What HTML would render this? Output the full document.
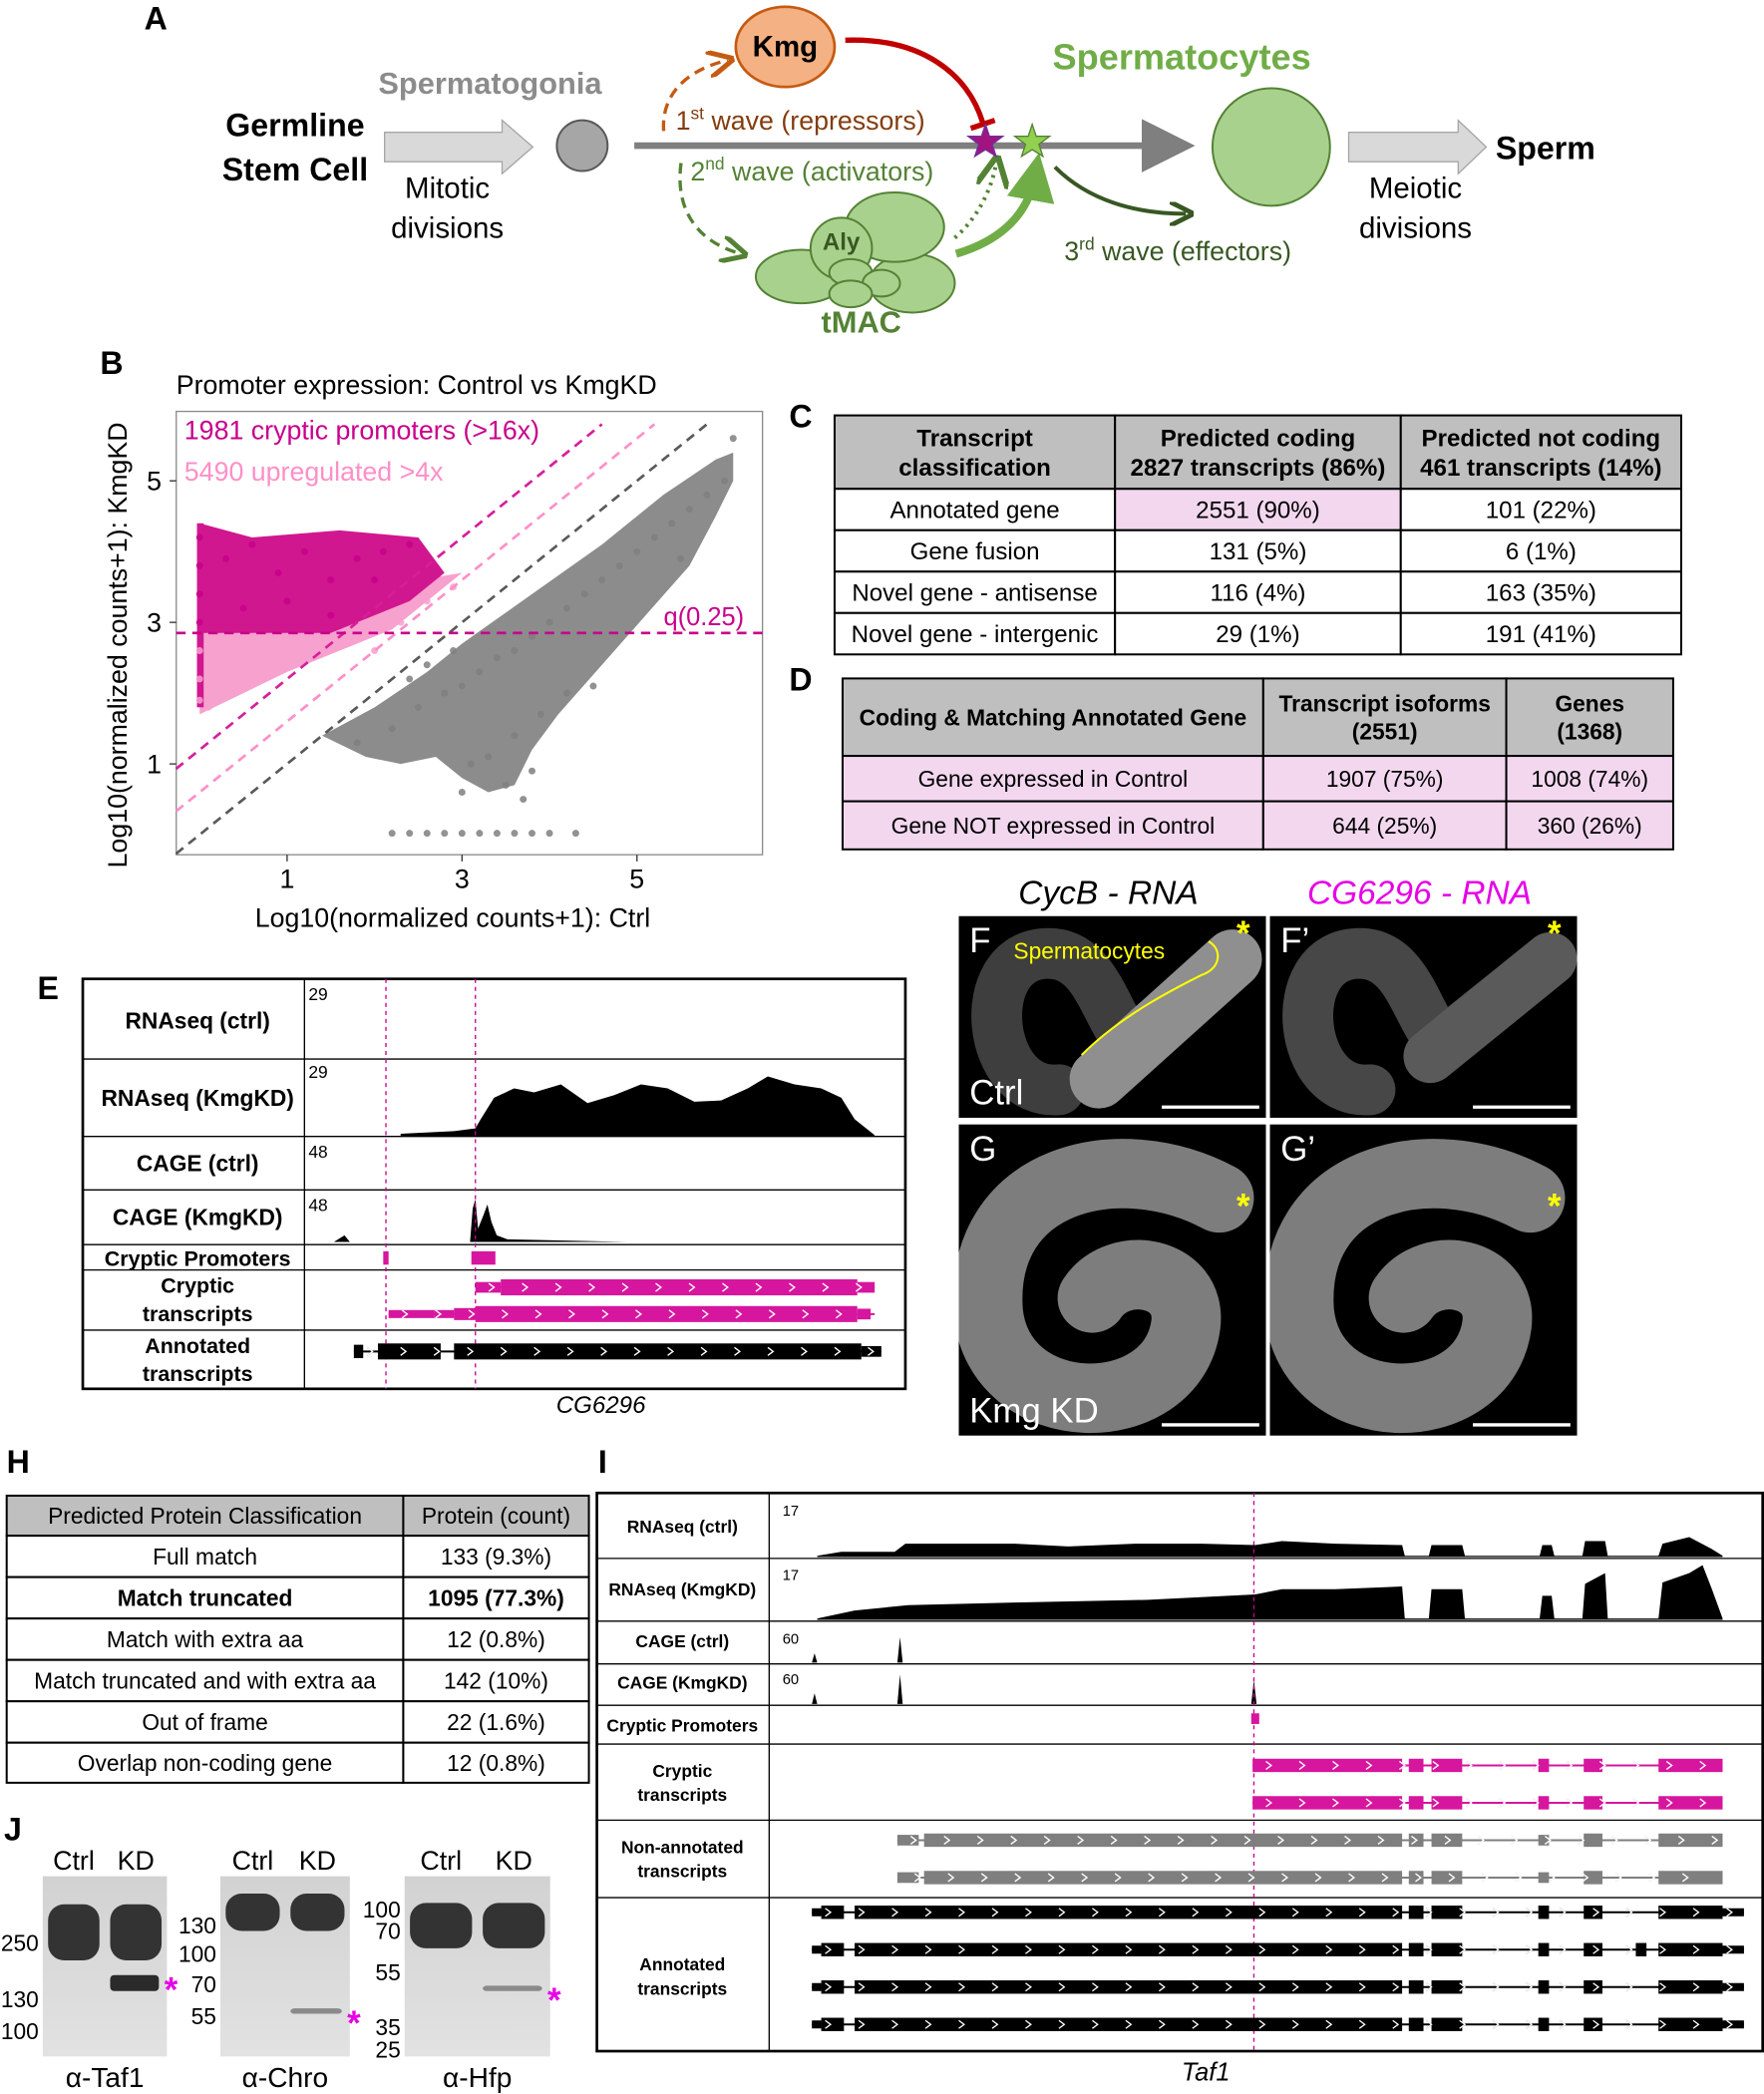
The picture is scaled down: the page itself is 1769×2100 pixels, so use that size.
<!DOCTYPE html>
<html><head><meta charset="utf-8"><title>Figure</title>
<style>
html,body{margin:0;padding:0;background:#fff;}
svg{display:block;font-family:"Liberation Sans",sans-serif;}
</style></head>
<body>
<svg id="fig" width="1769" height="2100" viewBox="0 0 1321 1568" xmlns="http://www.w3.org/2000/svg">
<defs>
<marker id="ah" markerWidth="8" markerHeight="8" refX="6" refY="4" orient="auto"><path d="M0,0 L8,4 L0,8 z" fill="#7f7f7f"/></marker>
<marker id="ahO" markerWidth="8" markerHeight="8" refX="6" refY="4" orient="auto"><path d="M0,0 L8,4 L0,8" fill="none" stroke="#c55a11" stroke-width="1.5"/></marker>
<marker id="ahG" markerWidth="8" markerHeight="8" refX="6" refY="4" orient="auto"><path d="M0,0 L8,4 L0,8" fill="none" stroke="#548235" stroke-width="1.5"/></marker>
<marker id="ahDG" markerWidth="6" markerHeight="6" refX="4" refY="3" orient="auto"><path d="M0,0 L6,3 L0,6" fill="none" stroke="#385723" stroke-width="1.2"/></marker>
<marker id="ahT" markerWidth="6" markerHeight="6" refX="3" refY="3" orient="auto"><path d="M0,0 L6,3 L0,6 z" fill="#70ad47"/></marker>
<linearGradient id="blotbg" x1="0" y1="0" x2="0" y2="1"><stop offset="0" stop-color="#d2d2d2"/><stop offset="1" stop-color="#e2e2e2"/></linearGradient>
</defs>

<g>
<text x="108" y="22" font-size="24" font-weight="bold">A</text>
<text x="221" y="102" font-size="24" font-weight="bold" text-anchor="middle">Germline</text>
<text x="221" y="135" font-size="24" font-weight="bold" text-anchor="middle">Stem Cell</text>
<path d="M288,99 H376 V90 L399,110 L376,130 V121 H288 Z" fill="#d9d9d9" stroke="#a6a6a6"/>
<text x="367" y="70" font-size="23" font-weight="bold" fill="#8c8c8c" text-anchor="middle">Spermatogonia</text>
<text x="335" y="148" font-size="22" text-anchor="middle">Mitotic</text>
<text x="335" y="178" font-size="22" text-anchor="middle">divisions</text>
<circle cx="436" cy="109" r="19" fill="#a6a6a6" stroke="#595959" stroke-width="1.5"/>
<line x1="475" y1="109" x2="885" y2="109" stroke="#7f7f7f" stroke-width="5" marker-end="url(#ah)"/>
<ellipse cx="588" cy="35" rx="37" ry="30" fill="#f4b183" stroke="#c55a11" stroke-width="2"/>
<text x="588" y="42" font-size="22" font-weight="bold" text-anchor="middle">Kmg</text>
<path d="M633,30 C690,28 725,55 736,92" fill="none" stroke="#c00000" stroke-width="4"/>
<line x1="727" y1="96" x2="745" y2="90" stroke="#c00000" stroke-width="4"/>
<path d="M497,98 C495,70 515,52 545,45" fill="none" stroke="#c55a11" stroke-width="2.5" stroke-dasharray="8,5" marker-end="url(#ahO)"/>
<text x="506" y="97" font-size="20" fill="#843c0c">1<tspan font-size="13" dy="-8">st</tspan><tspan dy="8"> wave (repressors)</tspan></text>
<text x="517" y="135" font-size="20" fill="#548235">2<tspan font-size="13" dy="-8">nd</tspan><tspan dy="8"> wave (activators)</tspan></text>
<path d="M510,122 C505,160 525,182 555,190" fill="none" stroke="#548235" stroke-width="2.5" stroke-dasharray="8,5" marker-end="url(#ahG)"/>
<g fill="#a9d18e" stroke="#548235" stroke-width="1.5">
<ellipse cx="600" cy="207" rx="34" ry="20"/><ellipse cx="683" cy="212" rx="32" ry="22"/><ellipse cx="670" cy="170" rx="37" ry="26"/>
<ellipse cx="630" cy="186" rx="23" ry="23"/><ellipse cx="637" cy="204" rx="16" ry="10"/><ellipse cx="660" cy="212" rx="14" ry="10"/><ellipse cx="637" cy="220" rx="16" ry="10"/>
</g>
<text x="630" y="187" font-size="18" font-weight="bold" fill="#385723" text-anchor="middle">Aly</text>
<text x="645" y="249" font-size="23" font-weight="bold" fill="#548235" text-anchor="middle">tMAC</text>
<path d="M715,178 C730,165 742,145 746,122" fill="none" stroke="#548235" stroke-width="3" stroke-dasharray="2,4" marker-end="url(#ahG)"/>
<path d="M716,190 C750,180 770,160 775,132" fill="none" stroke="#70ad47" stroke-width="6" marker-end="url(#ahT)"/>
<path d="M790,125 C815,150 850,160 888,160" fill="none" stroke="#385723" stroke-width="3" marker-end="url(#ahDG)"/>
<text x="797" y="195" font-size="20" fill="#385723">3<tspan font-size="13" dy="-8">rd</tspan><tspan dy="8"> wave (effectors)</tspan></text>
<polygon points="738,93 741,102 751,102 743,108 746,117 738,112 730,117 733,108 725,102 735,102" fill="#a0147f" stroke="#7030a0"/>
<polygon points="773,93 776,102 786,102 778,108 781,117 773,112 765,117 768,108 760,102 770,102" fill="#92d050" stroke="#548235"/>
<text x="885" y="52" font-size="27" font-weight="bold" fill="#70ad47" text-anchor="middle">Spermatocytes</text>
<circle cx="952" cy="110" r="44" fill="#a9d18e" stroke="#548235" stroke-width="1.5"/>
<path d="M1010,99 H1092 V90 L1113,110 L1092,130 V121 H1010 Z" fill="#d9d9d9" stroke="#a6a6a6"/>
<text x="1120" y="119" font-size="24" font-weight="bold">Sperm</text>
<text x="1060" y="148" font-size="22" text-anchor="middle">Meiotic</text>
<text x="1060" y="178" font-size="22" text-anchor="middle">divisions</text>
</g>

<g id="scatter">
<text x="75" y="280" font-size="24" font-weight="bold">B</text>
<text x="132" y="295" font-size="20">Promoter expression: Control vs KmgKD</text>
<rect x="132" y="308" width="439" height="332" fill="#fff" stroke="#8c8c8c"/>
<g id="clouds"></g>
<g id="pts"></g>
<g id="lines"></g>
<g id="ticks"></g>
<text x="138" y="329" font-size="20" fill="#c8008c">1981 cryptic promoters (&gt;16x)</text>
<text x="138" y="360" font-size="20" fill="#ff8fc8">5490 upregulated &gt;4x</text>
<text x="497" y="468" font-size="19" fill="#c8008c">q(0.25)</text>
<text x="339" y="694" font-size="20" text-anchor="middle">Log10(normalized counts+1): Ctrl</text>
<text transform="translate(95,483) rotate(-90)" font-size="20" text-anchor="middle">Log10(normalized counts+1): KmgKD</text>
</g>

<g id="tableC">
<text x="591" y="320" font-size="24" font-weight="bold">C</text>
</g>
<g id="tableD">
<text x="591" y="517" font-size="24" font-weight="bold">D</text>
</g>

<g id="panelE">
<text x="28" y="748" font-size="24" font-weight="bold">E</text>
<rect x="62" y="733" width="616" height="307" fill="#fff" stroke="#000" stroke-width="2"/>
<line x1="228" y1="733" x2="228" y2="1040" stroke="#000"/>
<text x="450" y="1058" font-size="18" font-style="italic" text-anchor="middle">CG6296</text>
</g>

<g id="panelF">
<text x="830" y="677" font-size="25" font-style="italic" text-anchor="middle">CycB - RNA</text>
<text x="1063" y="677" font-size="25" font-style="italic" fill="#e600e6" text-anchor="middle">CG6296 - RNA</text>
</g>

<g id="tableH">
<text x="5" y="1103" font-size="24" font-weight="bold">H</text>
</g>

<g id="panelI">
<text x="448" y="1103" font-size="24" font-weight="bold">I</text>
<rect x="447" y="1118" width="873" height="418" fill="#fff" stroke="#000" stroke-width="2"/>
<line x1="576" y1="1118" x2="576" y2="1536" stroke="#000"/>
<text x="903" y="1558" font-size="19" font-style="italic" text-anchor="middle">Taf1</text>
</g>

<g id="panelJ">
<text x="3" y="1378" font-size="24" font-weight="bold">J</text>
</g>
</svg>

<script>
var NS="http://www.w3.org/2000/svg";
function mk(p,tag,attrs,txt){var e=document.createElementNS(NS,tag);for(var k in attrs)e.setAttribute(k,attrs[k]);if(txt!==undefined)e.textContent=txt;p.appendChild(e);return e;}

var xTicks=[1,3,5];
var yTicks=[1,3,5];
var grayCtrl=[1.8,2.2,2.5,2.8,3.0,3.2,3.4,3.6,3.8,4.0,4.2,4.4,4.6,4.8,5.0,5.2,5.4,5.6,5.8,6.0,3.3,3.6,3.9,4.2,3.1,2.4,2.6,2.9,3.5,3.8,4.5,5.5,6.1,3.0,3.7];
var grayKD =[1.3,1.5,1.8,2.0,2.1,2.3,2.5,2.6,2.8,3.0,3.2,3.4,3.6,3.8,4.0,4.2,4.4,4.6,4.8,5.0,1.1,1.4,1.7,2.0,1.0,2.2,2.4,2.6,0.7,0.9,2.1,3.9,5.6,0.6,0.5];
var zeroCtrl=[2.2,2.4,2.6,2.8,3.0,3.2,3.4,3.6,3.8,4.0,4.3];
var zeroKD=[0.02,0.02,0.02,0.02,0.02,0.02,0.02,0.02,0.02,0.02,0.02];
var magCtrl=[0.0,0.0,0.0,0.0,0.3,0.6,0.9,1.2,1.5,1.8,2.1,2.4,0.5,1.0,1.5,2.0];
var magKD =[4.2,3.8,3.4,3.0,3.9,4.1,3.7,4.0,3.6,3.9,4.0,4.1,3.2,3.3,3.1,3.6];
var pinkCtrl=[0.0,0.0,0.0,0.3,0.8,1.3,1.8,2.3,2.6,2.9,1.0,2.0,0.1,0.2];
var pinkKD =[2.6,2.2,1.9,2.5,2.7,2.7,2.9,3.0,3.3,3.5,2.4,2.6,1.8,2.0];
var q25=2.85;
var foldLines=[{log:1.2,color:"#d61f9a"},{log:0.6,color:"#ff8fc8"},{log:0,color:"#595959"}];

function sx(v){return 149.5+v*65.5;}
function sy(v){return 625-v*53;}
function poly(arr){return arr.map(function(p){return sx(p[0])+','+sy(p[1]);}).join(' ');}
(function(){
 var cl=document.getElementById('clouds');
 var pink=mk(cl,'polygon',{points:poly([[0,1.7],[1.0,2.3],[2.2,2.9],[3.0,3.7],[2.0,3.5],[1.0,3.1],[0,3.0]]),fill:'#f7a1cf'});
 
 
 var mag=mk(cl,'polygon',{points:poly([[0,2.85],[1.5,2.85],[2.4,3.3],[2.8,3.7],[2.5,4.2],[1.6,4.3],[0.6,4.2],[0,4.4]]),fill:'#d0178f'});
 
 
 var gr=mk(cl,'polygon',{points:poly([[1.4,1.4],[2.0,1.8],[2.6,2.3],[3.0,2.7],[3.8,3.4],[4.6,4.1],[5.3,4.8],[5.9,5.3],[6.1,5.4],[6.1,5.0],[5.9,4.5],[5.6,3.8],[5.1,3.1],[4.6,2.4],[4.1,1.7],[3.8,1.2],[3.6,0.7],[3.3,0.6],[3.0,0.8],[2.7,1.1],[2.3,1.0],[1.9,1.1]]),fill:'#8c8c8c'});
 
 
 var vl=mk(cl,'rect',{x:sx(0)-2,y:sy(4.4),width:5,height:sy(1.8)-sy(4.4),fill:'#d0178f'});
 
 
 var pg=document.getElementById('pts');
 function dots(xs,ys,col,nm){for(var i=0;i<xs.length;i++){var c=mk(pg,'circle',{cx:sx(xs[i]),cy:sy(ys[i]),r:2.6,fill:col,opacity:0.85});
  
  }}
 dots(grayCtrl,grayKD,'#7f7f7f','gray-point');
 dots(zeroCtrl,zeroKD,'#7f7f7f','zero-point');
 dots(pinkCtrl,pinkKD,'#f7a1cf','pink-point');
 dots(magCtrl,magKD,'#c8008c','magenta-point');
 var lg=document.getElementById('lines');
 foldLines.forEach(function(f){
  var x0=-0.27,x1=Math.min(5.8-f.log,6.1);
  var l=mk(lg,'line',{x1:sx(x0),y1:sy(x0+f.log),x2:sx(x1),y2:sy(x1+f.log),stroke:f.color,'stroke-width':2,'stroke-dasharray':'7,5'});
  
  
 });
 var q=mk(lg,'line',{x1:132,y1:sy(q25),x2:571,y2:sy(q25),stroke:'#c8008c','stroke-width':2,'stroke-dasharray':'7,5'});
 
 
 var tg=document.getElementById('ticks');
 xTicks.forEach(function(t){mk(tg,'line',{x1:sx(t),y1:640,x2:sx(t),y2:645,stroke:'#333'});
  var tx=mk(tg,'text',{x:sx(t),y:665,'font-size':20,'text-anchor':'middle'},String(t));
  
  });
 yTicks.forEach(function(t){mk(tg,'line',{x1:127,y1:sy(t),x2:132,y2:sy(t),stroke:'#333'});
  var tx=mk(tg,'text',{x:121,y:sy(t)+7,'font-size':20,'text-anchor':'end'},String(t));
  
  });
})();

function table(gid,cols,rows,cells,fills,bold,fs){
 var g=document.getElementById(gid);
 for(var r=0;r<rows.length-1;r++){for(var c=0;c<cols.length-1;c++){
  var f=fills[r][c];
  mk(g,'rect',{x:cols[c],y:rows[r],width:cols[c+1]-cols[c],height:rows[r+1]-rows[r],fill:f,stroke:'#000','stroke-width':1.5});
  var lines=cells[r][c].split('\n');var cy=(rows[r]+rows[r+1])/2;var lh=fs+4;
  for(var i=0;i<lines.length;i++){var t=mk(g,'text',{x:(cols[c]+cols[c+1])/2,y:cy+(i-(lines.length-1)/2)*lh+fs*0.36,'font-size':fs,'text-anchor':'middle','font-weight':(bold[r]?'bold':'normal')},lines[i]);
   
   }
 }}
}
var G='#bfbfbf',W='#fff',P='#f2d7ef';
table('tableC',[625,835,1049,1259],[311,366,397,428,459,490],
 [["Transcript\nclassification","Predicted coding\n2827 transcripts (86%)","Predicted not coding\n461 transcripts (14%)"],
  ["Annotated gene","2551 (90%)","101 (22%)"],["Gene fusion","131 (5%)","6 (1%)"],
  ["Novel gene - antisense","116 (4%)","163 (35%)"],["Novel gene - intergenic","29 (1%)","191 (41%)"]],
 [[G,G,G],[W,P,W],[W,W,W],[W,W,W],[W,W,W]],[true,false,false,false,false],18);
table('tableD',[631,946,1128,1253],[508,566,600,636],
 [["Coding & Matching Annotated Gene","Transcript isoforms\n(2551)","Genes\n(1368)"],
  ["Gene expressed in Control","1907 (75%)","1008 (74%)"],["Gene NOT expressed in Control","644 (25%)","360 (26%)"]],
 [[G,G,G],[P,P,P],[P,P,P]],[true,false,false],17);
table('tableH',[5,302,441],[1120,1150,1181,1212,1243,1274,1305,1335],
 [["Predicted Protein Classification","Protein (count)"],["Full match","133 (9.3%)"],["Match truncated","1095 (77.3%)"],
  ["Match with extra aa","12 (0.8%)"],["Match truncated and with extra aa","142 (10%)"],["Out of frame","22 (1.6%)"],["Overlap non-coding gene","12 (0.8%)"]],
 [[G,G],[W,W],[W,W],[W,W],[W,W],[W,W],[W,W]],[false,false,true,false,false,false,false],17);

function rowLines(g,x0,x1,ys){ys.forEach(function(y){mk(g,'line',{x1:x0,y1:y,x2:x1,y2:y,stroke:'#000','stroke-width':1});});}
function label(g,x,y,txt,fs){var ls=txt.split('\n');ls.forEach(function(L,i){var t=mk(g,'text',{x:x,y:y+(i-(ls.length-1)/2)*(fs+5)+fs*0.36,'font-size':fs,'font-weight':'bold','text-anchor':'middle'},L);
 
 });}
function gene(g,y,x0,x1,exons,col,h){
 mk(g,'line',{x1:x0,y1:y,x2:x1,y2:y,stroke:col,'stroke-width':1.5});
 for(var x=x0+12;x<x1-5;x+=25){mk(g,'path',{d:'M'+(x-2)+','+(y-3)+' L'+(x+2)+','+y+' L'+(x-2)+','+(y+3),fill:'none',stroke:col,'stroke-width':1});}
 exons.forEach(function(e){var r=mk(g,'rect',{x:e[0],y:y-(e[2]||h)/2,width:e[1]-e[0],height:(e[2]||h),fill:col});
  
  });
 for(var x2=x0+12;x2<x1-5;x2+=25){mk(g,'path',{d:'M'+(x2-2)+','+(y-3)+' L'+(x2+2)+','+y+' L'+(x2-2)+','+(y+3),fill:'none',stroke:'#fff','stroke-width':1});}
}
function area(g,pts,base,col){var d='M'+pts[0][0]+','+base;pts.forEach(function(p){d+=' L'+p[0]+','+p[1];});d+=' L'+pts[pts.length-1][0]+','+base+' Z';var a=mk(g,'path',{d:d,fill:col});
 
 }

(function(){
 var g=document.getElementById('panelE');
 rowLines(g,62,678,[793,851,891,932,951,996]);
 label(g,148,764,'RNAseq (ctrl)',17);label(g,148,822,'RNAseq (KmgKD)',17);label(g,148,871,'CAGE (ctrl)',17);
 label(g,148,911,'CAGE (KmgKD)',17);label(g,148,942,'Cryptic Promoters',16);label(g,148,973,'Cryptic\ntranscripts',16);label(g,148,1018,'Annotated\ntranscripts',16);
 [[744,'29'],[802,'29'],[862,'48'],[902,'48']].forEach(function(a){mk(g,'text',{x:231,y:a[0]+5,'font-size':13},a[1]);});
 area(g,[[300,849],[340,847],[356,845],[360,838],[370,822],[385,815],[400,818],[420,812],[440,826],[460,820],[480,812],[500,815],[520,825],[540,824],[560,815],[575,806],[595,812],[615,815],[630,822],[640,838],[655,850]],851,'#000');
 area(g,[[250,930],[258,925],[262,930],[352,930],[354,905],[356,898],[358,920],[362,910],[365,902],[368,915],[372,925],[380,928],[470,930]],930,'#000');
 [289,356].forEach(function(x){mk(g,'line',{x1:x,y1:733,x2:x,y2:1040,stroke:'#c8008c','stroke-dasharray':'3,3'});});
 mk(g,'rect',{x:287,y:937,width:4,height:10,fill:'#d6169e'});mk(g,'rect',{x:353,y:937,width:18,height:10,fill:'#d6169e'});
 gene(g,964,356,655,[[356,375,8],[375,642,12],[642,655,8]],'#d6169e',12);
 gene(g,984,291,655,[[291,325,6],[325,340,6],[340,356,9],[356,642,12],[642,652,8]],'#d6169e',12);
 gene(g,1012,265,660,[[265,272,10],[283,330,12],[340,645,12],[645,660,8]],'#000',12);
})();

(function(){
 var g=document.getElementById('panelF');
 var boxes=[[718,686,'F','Ctrl',0],[951,686,'F\u2019','',1],[718,842,'G','Kmg KD',2],[951,842,'G\u2019','',2]];
 boxes.forEach(function(b){
  var x=b[0],y=b[1],w=230,h=b[4]===2?233:151;
  var r=mk(g,'rect',{x:x,y:y,width:w,height:h,fill:'#000'});
  
  
  var cp=mk(g,'clipPath',{id:'cp'+b[4]+x+y});mk(cp,'rect',{x:x,y:y,width:w,height:h});
  var sg=mk(g,'g',{'clip-path':'url(#cp'+b[4]+x+y+')'});
  if(b[4]<2){
   mk(sg,'path',{d:'M'+(x+75)+','+(y+130)+' C'+(x+20)+','+(y+135)+' '+(x+10)+','+(y+30)+' '+(x+65)+','+(y+28)+' C'+(x+105)+','+(y+26)+' '+(x+110)+','+(y+80)+' '+(x+130)+','+(y+95)+' L'+(x+205)+','+(y+35),fill:'none',stroke:b[4]===0?'#3e3e3e':'#474747','stroke-width':38,'stroke-linecap':'round'});
   if(b[4]===0){mk(sg,'path',{d:'M'+(x+105)+','+(y+122)+' L'+(x+205)+','+(y+32),stroke:'#8f8f8f','stroke-width':44,'stroke-linecap':'round'});}
   else{mk(sg,'path',{d:'M'+(x+120)+','+(y+105)+' L'+(x+210)+','+(y+32),stroke:'#5a5a5a','stroke-width':40,'stroke-linecap':'round'});}
  }else{
   mk(sg,'path',{d:'M'+(x+195)+','+(y+55)+' C'+(x+120)+','+(y+15)+' '+(x+15)+','+(y+40)+' '+(x+22)+','+(y+140)+' C'+(x+30)+','+(y+225)+' '+(x+160)+','+(y+225)+' '+(x+170)+','+(y+150)+' C'+(x+175)+','+(y+110)+' '+(x+120)+','+(y+100)+' '+(x+100)+','+(y+130),fill:'none',stroke:'#7d7d7d','stroke-width':52,'stroke-linecap':'round'});
  }
  mk(g,'text',{x:x+8,y:y+27,'font-size':26,fill:'#fff'},b[2]);
  if(b[3])mk(g,'text',{x:x+8,y:y+h-10,'font-size':26,fill:'#fff'},b[3]);
  mk(g,'text',{x:x+w-22,y:y+(b[4]===2?70:22),'font-size':26,fill:'#ffff00','font-weight':'bold'},'*');
  mk(g,'line',{x1:x+w-78,y1:y+h-8,x2:x+w-5,y2:y+h-8,stroke:'#fff','stroke-width':2.5});
 });
 mk(g,'text',{x:759,y:718,'font-size':17,fill:'#ffff00'},'Spermatocytes');
 mk(g,'path',{d:'M905,705 C915,710 915,725 900,730 C880,740 840,760 810,790',fill:'none',stroke:'#ffff00','stroke-width':1.5});
})();

(function(){
 var g=document.getElementById('panelI');
 rowLines(g,447,1320,[1167,1214,1246,1277,1306,1363,1421]);
 label(g,511,1143,'RNAseq (ctrl)',13);label(g,511,1190,'RNAseq (KmgKD)',13);label(g,511,1229,'CAGE (ctrl)',13);
 label(g,511,1260,'CAGE (KmgKD)',13);label(g,511,1292,'Cryptic Promoters',13);label(g,511,1335,'Cryptic\ntranscripts',13);
 label(g,511,1392,'Non-annotated\ntranscripts',13);label(g,511,1480,'Annotated\ntranscripts',13);
 [[1130,'17'],[1178,'17'],[1226,'60'],[1256,'60']].forEach(function(a){mk(g,'text',{x:586,y:a[0]+5,'font-size':11},a[1]);});
 area(g,[[612,1165],[630,1162],[670,1162],[678,1156],[760,1156],[800,1158],[850,1156],[900,1156],[940,1157],[960,1154],[1000,1156],[1050,1157],[1052,1165],[1070,1165],[1072,1157],[1095,1157],[1097,1165],[1153,1165],[1155,1157],[1162,1157],[1164,1165],[1185,1165],[1187,1154],[1202,1154],[1204,1165],[1242,1165],[1245,1156],[1265,1151],[1282,1160],[1290,1165]],1166,'#000');
 area(g,[[612,1212],[640,1206],[680,1202],[760,1200],[860,1198],[940,1194],[960,1190],[1000,1190],[1050,1188],[1052,1212],[1070,1212],[1072,1190],[1095,1190],[1097,1212],[1153,1212],[1155,1195],[1162,1195],[1164,1212],[1185,1212],[1187,1186],[1202,1178],[1204,1212],[1242,1212],[1245,1185],[1265,1178],[1275,1172],[1282,1190],[1290,1212]],1213,'#000');
 area(g,[[608,1245],[610,1238],[612,1245],[672,1245],[674,1226],[676,1245],[860,1245]],1245,'#000');
 area(g,[[608,1276],[610,1268],[612,1276],[672,1276],[674,1254],[676,1276],[937,1276],[939,1258],[941,1276]],1276,'#000');
 mk(g,'line',{x1:939,y1:1118,x2:939,y2:1536,stroke:'#c8008c','stroke-dasharray':'3,3'});
 mk(g,'rect',{x:937,y:1283,width:6,height:8,fill:'#d6169e'});
 var crypt=[[938,1050,10],[1055,1066,10],[1072,1095,10],[1152,1160,10],[1186,1200,10],[1242,1290,10]];
 gene(g,1322,938,1290,crypt,'#d6169e',10);gene(g,1350,938,1290,crypt,'#d6169e',10);
 var na=[[672,688,8],[692,1050,10],[1055,1066,10],[1072,1095,10],[1152,1160,8],[1186,1200,10],[1242,1290,10]];
 gene(g,1378,672,1290,na,'#7f7f7f',10);gene(g,1406,675,1290,na,'#7f7f7f',10);
 var an=[[608,615,6],[615,632,10],[640,1050,10],[1055,1066,10],[1072,1095,10],[1152,1160,10],[1186,1200,10],[1242,1290,10],[1290,1306,6]];
 [1432,1460,1488,1516].forEach(function(y,i){var e=an.slice();if(i===1)e=e.concat([[1225,1233,10]]);gene(g,y,608,1306,e,'#000',10);});
})();

(function(){
 var g=document.getElementById('panelJ');
 var blots=[
  {x:32,w:93,name:'\u03b1-Taf1',mk:[[250,1455],[130,1497],[100,1521]],band:1485,top:1426,bh:42},
  {x:165,w:97,name:'\u03b1-Chro',mk:[[130,1442],[100,1463],[70,1486],[55,1510]],band:1510,top:1418,bh:28},
  {x:303,w:109,name:'\u03b1-Hfp',mk:[[100,1430],[70,1446],[55,1477],[35,1518],[25,1535]],band:1493,top:1425,bh:34}];
 blots.forEach(function(b){
  var r=mk(g,'rect',{x:b.x,y:1405,width:b.w,height:135,fill:'url(#blotbg)'});
  
  
  var cw=b.w/2;var taf=(b.name==='\u03b1-Taf1');
  [0,1].forEach(function(i){mk(g,'rect',{x:b.x+cw*i+4,y:b.top,width:cw-8,height:b.bh,rx:12,ry:12,fill:'#333'});});
  mk(g,'rect',{x:b.x+cw+4,y:b.band-6,width:cw-10,height:taf?12:4,rx:3,fill:taf?'#2a2a2a':'#8a8a8a'});
  mk(g,'text',{x:b.x+cw*0.5,y:1400,'font-size':20,'text-anchor':'middle'},'Ctrl');
  mk(g,'text',{x:b.x+cw*1.5,y:1400,'font-size':20,'text-anchor':'middle'},'KD');
  mk(g,'text',{x:b.x+b.w/2,y:1563,'font-size':21,'text-anchor':'middle'},b.name);
  b.mk.forEach(function(m){mk(g,'text',{x:b.x-3,y:m[1]+6,'font-size':17,'text-anchor':'end'},String(m[0]));});
  mk(g,'text',{x:b.x+b.w-2,y:b.band+14,'font-size':26,fill:'#e600e6','font-weight':'bold'},'*');
 });
})();
</script>
</body></html>
